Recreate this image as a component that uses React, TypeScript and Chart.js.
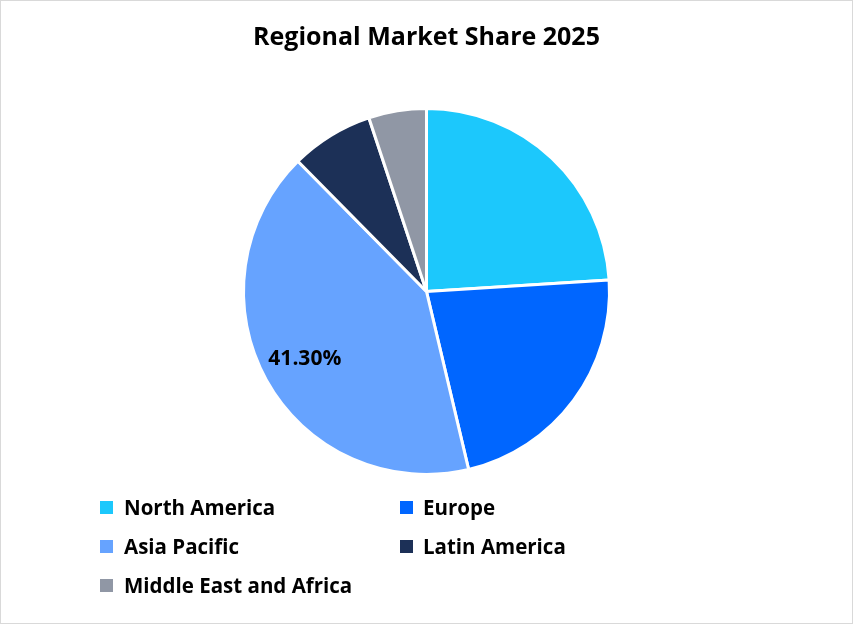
import React, { useEffect, useRef } from "react";
import { Chart, registerables } from "chart.js";

Chart.register(...registerables);

const regions = ["North America", "Europe", "Asia Pacific", "Latin America", "Middle East and Africa"];
const shares = [24.0, 22.3, 41.3, 7.3, 5.1];
const colors = ["#1CC8FC", "#0066FF", "#66A3FF", "#1C3057", "#9097A5"];
const labeledIndex = [2];
const chartTitle = "Regional Market Share 2025";

const FONT = "'Open Sans', 'Noto Sans', sans-serif";

const labelPlugin = {
  id: "sliceLabels",
  afterDatasetsDraw(chart: any) {
    const { ctx } = chart;
    const meta = chart.getDatasetMeta(0);
    ctx.save();
    ctx.font = `bold 21px ${FONT}`;
    ctx.fillStyle = "#000";
    ctx.textAlign = "center";
    ctx.textBaseline = "middle";
    labeledIndex.forEach((i) => {
      const arc: any = meta.data[i];
      const p = arc.getProps(["x", "y", "startAngle", "endAngle", "outerRadius"], true);
      const mid = (p.startAngle + p.endAngle) / 2;
      const r = p.outerRadius * 0.76;
      const x = p.x + Math.cos(mid) * r;
      const y = p.y + Math.sin(mid) * r;
      ctx.fillText(shares[i].toFixed(2) + "%", x, y);
    });
    ctx.restore();
  },
};

export default function App() {
  const ref = useRef<HTMLCanvasElement | null>(null);
  useEffect(() => {
    if (!ref.current) return;
    const chart = new Chart(ref.current, {
      type: "pie",
      data: {
        labels: regions,
        datasets: [
          {
            data: shares,
            backgroundColor: colors,
            borderColor: "#ffffff",
            borderWidth: 3,
          },
        ],
      },
      options: {
        animation: false,
        responsive: false,
        layout: { padding: { top: 0, bottom: 148, left: 0, right: 0 } },
        plugins: {
          legend: { display: false },
          tooltip: { enabled: false },
          title: {
            display: true,
            text: chartTitle,
            color: "#000",
            font: { family: FONT, size: 25, weight: "bold", lineHeight: 1.2 },
            padding: { top: 23, bottom: 54 },
          },
        },
      },
      plugins: [labelPlugin],
    });
    return () => chart.destroy();
  }, []);

  const rows = [
    [0, 1],
    [2, 3],
    [4],
  ];

  return (
    <div
      style={{
        position: "fixed",
        left: 0,
        top: 0,
        width: 853,
        height: 624,
        boxSizing: "border-box",
        border: "1px solid #d9d9d9",
        background: "#fff",
        overflow: "hidden",
      }}
    >
      <canvas ref={ref} width={853} height={624} style={{ position: "absolute", left: -1, top: -1 }} />
      {rows.map((row, ri) =>
        row.map((idx, ci) => (
          <div
            key={idx}
            style={{
              position: "absolute",
              left: ci === 0 ? 99 : 399,
              top: 507 + ri * 39 - 14 - 1,
              height: 28,
              display: "flex",
              alignItems: "center",
              fontFamily: FONT,
              fontWeight: "bold",
              fontSize: 20.5,
              color: "#000",
              whiteSpace: "nowrap",
            }}
          >
            <span
              style={{
                display: "inline-block",
                width: 13,
                height: 13,
                background: colors[idx],
                marginRight: ci === 0 ? 11 : 10,
              }}
            />
            {regions[idx]}
          </div>
        ))
      )}
    </div>
  );
}
